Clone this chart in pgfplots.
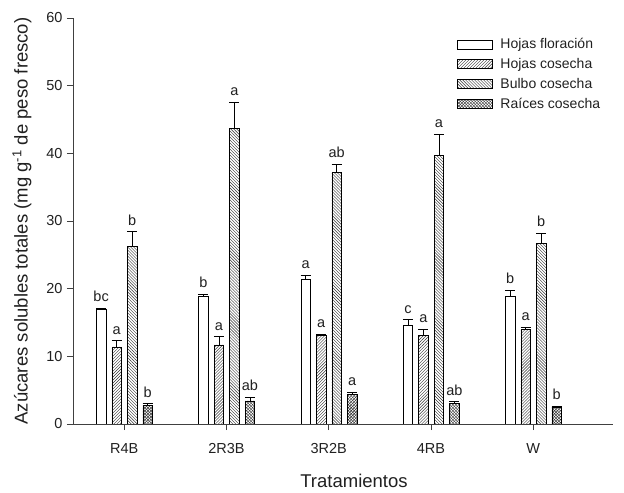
\documentclass[border=0pt]{standalone}
\usepackage{pgfplots}
\pgfplotsset{compat=1.18}
\usepackage{pgfplotstable}
\usepackage{fontspec}
\setmainfont{Liberation Sans}
\usetikzlibrary{patterns}

\pgfplotstableread{
x y e l
0 17.0 0.15 bc
1 18.8 0.4 b
2 21.4 0.6 a
3 14.6 0.8 c
4 18.9 0.9 b
}\tabF
\pgfplotstableread{
x y e l
0 11.4 0.9 a
1 11.7 1.2 a
2 13.1 0.2 a
3 13.1 0.9 a
4 14.0 0.3 a
}\tabH
\pgfplotstableread{
x y e l
0 26.3 2.1 b
1 43.7 3.9 a
2 37.2 1.2 ab
3 39.7 3.1 a
4 26.7 1.5 b
}\tabB
\pgfplotstableread{
x y e l
0 2.7 0.3 b
1 3.4 0.6 ab
2 4.4 0.3 a
3 3.0 0.3 ab
4 2.5 0.15 b
}\tabR

\definecolor{axgray}{HTML}{404040}
\definecolor{txt}{HTML}{202020}

\pgfplotsset{
  barstyle/.style={ybar, bar width=9.5bp, draw=black, fill=white, line width=0.6pt,
    legend image code/.code={\draw[##1, line width=0.6pt] (0bp,-4.5bp) rectangle (35bp,4.5bp);}},
  errstyle/.style={forget plot, draw=none, mark=none,
    error bars/.cd, y dir=plus, y explicit,
    error bar style={draw=black, solid, line width=0.8pt},
    error mark=-,
    error mark options={rotate=90, draw=black, solid, line width=0.8pt, mark size=5bp}},
  lettstyle/.style={forget plot, draw=none, mark=none,
    nodes near coords, point meta=explicit symbolic,
    nodes near coords style={font=\fontsize{14.5bp}{16bp}\selectfont, text=txt, anchor=south, yshift=3bp}},
}

\begin{document}
\begin{tikzpicture}
\begin{axis}[
  scale only axis,
  width=540bp, height=406bp,
  xmin=-0.5, xmax=4.78,
  ymin=0, ymax=60,
  axis x line*=bottom, axis y line*=left,
  axis line style={axgray, line width=0.9pt},
  tick style={axgray, line width=0.9pt},
  tick align=outside,
  major tick length=6bp,
  xtick={0,1,2,3,4},
  xticklabels={R4B,2R3B,3R2B,4RB,W},
  ytick={0,10,20,30,40,50,60},
  /pgf/number format/assume math mode=true,
  tick label style={font=\fontsize{14.5bp}{16bp}\selectfont, text=txt},
  xticklabel style={yshift=-10bp},
  yticklabel style={xshift=-1bp},
  xlabel={Tratamientos},
  xlabel style={font=\fontsize{18.5bp}{20bp}\selectfont, text=txt, xshift=11bp, yshift=-13bp},
  ylabel={Azúcares solubles totales (mg g\textsuperscript{-1} de peso fresco)},
  ylabel style={font=\fontsize{18.5bp}{20bp}\selectfont, text=txt},
  ylabel shift=8bp,
  legend style={at={(0.705,0.957)}, anchor=north west, draw=none, fill=none,
    font=\fontsize{14bp}{16bp}\selectfont, text=txt, row sep=6bp, column sep=7bp,
    nodes={inner sep=1bp}},
  legend cell align=left,
]
% bars
\addplot[barstyle, bar shift=-23bp, fill=white]
  table[x=x, y=y] {\tabF};
\addlegendentry{Hojas floración}
\addplot[barstyle, bar shift=-7.5bp, pattern=north east lines, pattern color=black!80]
  table[x=x, y=y] {\tabH};
\addlegendentry{Hojas cosecha}
\addplot[barstyle, bar shift=8bp, pattern=north west lines, pattern color=black!80]
  table[x=x, y=y] {\tabB};
\addlegendentry{Bulbo cosecha}
\addplot[barstyle, bar shift=23.5bp, pattern=crosshatch, pattern color=black!80]
  table[x=x, y=y] {\tabR};
\addlegendentry{Raíces cosecha}
% error bars (bar shifts in axis units)
\addplot[errstyle] table[x expr={\thisrow{x}-0.2249}, y=y, y error=e] {\tabF};
\addplot[errstyle] table[x expr={\thisrow{x}-0.0733}, y=y, y error=e] {\tabH};
\addplot[errstyle] table[x expr={\thisrow{x}+0.0782}, y=y, y error=e] {\tabB};
\addplot[errstyle] table[x expr={\thisrow{x}+0.2298}, y=y, y error=e] {\tabR};
% letters
\addplot[lettstyle] table[x expr={\thisrow{x}-0.2249}, y expr={\thisrow{y}+\thisrow{e}}, meta=l] {\tabF};
\addplot[lettstyle] table[x expr={\thisrow{x}-0.0733}, y expr={\thisrow{y}+\thisrow{e}}, meta=l] {\tabH};
\addplot[lettstyle] table[x expr={\thisrow{x}+0.0782}, y expr={\thisrow{y}+\thisrow{e}}, meta=l] {\tabB};
\addplot[lettstyle] table[x expr={\thisrow{x}+0.2298}, y expr={\thisrow{y}+\thisrow{e}}, meta=l] {\tabR};
\end{axis}
\pgfresetboundingbox
\useasboundingbox (-73bp,-69bp) rectangle (551bp,424bp);
\end{tikzpicture}
\end{document}
